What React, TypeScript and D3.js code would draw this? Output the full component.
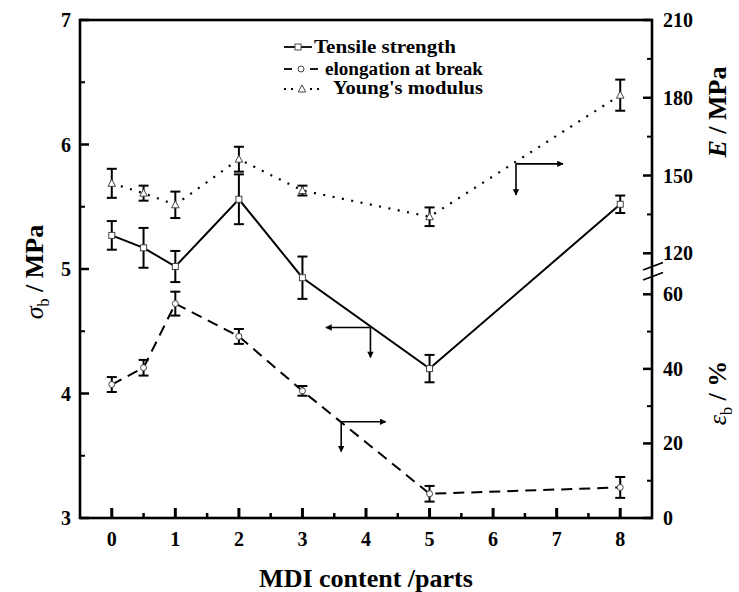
import React from 'react';
import * as d3 from 'd3';

const mdi = [0, 0.5, 1, 2, 3, 5, 8];
const tensile = [5.27, 5.17, 5.02, 5.56, 4.93, 4.2, 5.52];
const tensileErr = [0.115, 0.16, 0.125, 0.2, 0.17, 0.11, 0.07];
const elong = [35.8, 40.3, 57.5, 48.7, 34.1, 6.5, 8.2];
const elongErr = [2, 2.1, 3.2, 2, 1.3, 2.1, 2.8];
const modulus = [147, 143.2, 138.7, 156.3, 144.2, 134.1, 181];
const modulusErr = [5.6, 2.9, 5.1, 4.8, 1.9, 3.6, 6];

const xTicks = [0, 1, 2, 3, 4, 5, 6, 7, 8];
const xMinor = [0.5, 1.5, 2.5, 3.5, 4.5, 5.5, 6.5, 7.5];
const leftTicks = [3, 4, 5, 6, 7];
const leftMinor = [3.5, 4.5, 5.5, 6.5];
const eTicks = [120, 150, 180, 210];
const eMinor = [135, 165, 195];
const epsTicks = [0, 20, 40, 60];
const epsMinor = [10, 30, 50];

const legendLabels = ['Tensile strength', 'elongation at break', "Young's modulus"];

const FONT = "'Liberation Serif', 'Times New Roman', serif";

export default function App() {
  const x = d3.scaleLinear().domain([-0.5, 8.5]).range([80, 652]);
  const yL = d3.scaleLinear().domain([3, 7]).range([518, 20]);
  const yE = d3.scaleLinear().domain([120, 210]).range([253.3, 20]);
  const yEps = d3.scaleLinear().domain([0, 60]).range([518, 294.3]);

  const line = d3.line<[number, number]>();
  const tPts = mdi.map((d, i) => [x(d), yL(tensile[i])] as [number, number]);
  const ePts = mdi.map((d, i) => [x(d), yEps(elong[i])] as [number, number]);
  const mPts = mdi.map((d, i) => [x(d), yE(modulus[i])] as [number, number]);

  const errBar = (cx: number, y1: number, y2: number, key: string) => (
    <g key={key} stroke="#000" strokeWidth={2}>
      <line x1={cx} x2={cx} y1={y1} y2={y2} />
      <line x1={cx - 5} x2={cx + 5} y1={y1} y2={y1} />
      <line x1={cx - 5} x2={cx + 5} y1={y2} y2={y2} />
    </g>
  );

  const square = (cx: number, cy: number, key: string) => (
    <rect key={key} x={cx - 3} y={cy - 3} width={6} height={6} fill="#fff" stroke="#444" strokeWidth={1} />
  );
  const circle = (cx: number, cy: number, key: string) => (
    <circle key={key} cx={cx} cy={cy} r={3} fill="#fff" stroke="#444" strokeWidth={1} />
  );
  const tri = (cx: number, cy: number, key: string) => (
    <path key={key} d={`M${cx},${cy - 4}L${cx + 3.8},${cy + 3}L${cx - 3.8},${cy + 3}Z`} fill="#fff" stroke="#444" strokeWidth={1} />
  );

  const arrow = (cx: number, cy: number, hx: number, vy: number, key: string) => (
    <g key={key} stroke="#000" strokeWidth={1.6} fill="none">
      <line x1={cx} y1={cy} x2={hx} y2={cy} markerEnd="url(#ah)" />
      <line x1={cx} y1={cy} x2={cx} y2={vy} markerEnd="url(#ah)" />
    </g>
  );

  const bx0 = 80, bx1 = 652, by0 = 20, by1 = 518;

  return (
    <svg width={739} height={592} style={{ position: 'absolute', left: 0, top: 0, background: '#fff' }} fontFamily={FONT}>
      <defs>
        <marker id="ah" viewBox="0 0 10 10" refX={9} refY={5} markerWidth={5} markerHeight={4} orient="auto" markerUnits="strokeWidth">
          <path d="M0,0L10,5L0,10Z" fill="#000" />
        </marker>
      </defs>
      <rect x={0} y={0} width={739} height={592} fill="#fff" />

      {/* series lines */}
      <path d={line(mPts) || ''} fill="none" stroke="#000" strokeWidth={2.2} strokeDasharray="2 7.5" />
      <path d={line(tPts) || ''} fill="none" stroke="#000" strokeWidth={2} />
      <path d={line(ePts) || ''} fill="none" stroke="#000" strokeWidth={2} strokeDasharray="11 7" />

      {/* error bars */}
      {mdi.map((d, i) => errBar(x(d), yE(modulus[i] + modulusErr[i]), yE(modulus[i] - modulusErr[i]), 'me' + i))}
      {mdi.map((d, i) => errBar(x(d), yL(tensile[i] + tensileErr[i]), yL(tensile[i] - tensileErr[i]), 'te' + i))}
      {mdi.map((d, i) => errBar(x(d), yEps(elong[i] + elongErr[i]), yEps(elong[i] - elongErr[i]), 'ee' + i))}

      {/* markers */}
      {mPts.map((p, i) => tri(p[0], p[1], 'mt' + i))}
      {tPts.map((p, i) => square(p[0], p[1], 'ts' + i))}
      {ePts.map((p, i) => circle(p[0], p[1], 'ec' + i))}

      {/* arrows */}
      {arrow(x(4.07), yL(4.53), x(3.37), yL(4.29), 'a1')}
      {arrow(x(3.61), yEps(25.8), x(4.31), yEps(17.8), 'a2')}
      {arrow(x(6.36), yE(154.5), x(7.1), yE(142.5), 'a3')}

      {/* frame */}
      <rect x={bx0} y={by0} width={bx1 - bx0} height={by1 - by0} fill="none" stroke="#000" strokeWidth={2.6} />

      {/* x ticks */}
      {xTicks.map((t) => (
        <g key={'xt' + t}>
          <line x1={x(t)} x2={x(t)} y1={by1} y2={by1 - 10} stroke="#000" strokeWidth={3} />
          <text x={x(t)} y={546} textAnchor="middle" fontSize={20} fontWeight="bold">{t}</text>
        </g>
      ))}
      {xMinor.map((t) => (
        <line key={'xm' + t} x1={x(t)} x2={x(t)} y1={by1} y2={by1 - 5} stroke="#000" strokeWidth={2.5} />
      ))}

      {/* left ticks */}
      {leftTicks.map((t) => (
        <g key={'lt' + t}>
          <line x1={bx0} x2={bx0 + 9} y1={yL(t)} y2={yL(t)} stroke="#000" strokeWidth={2.5} />
          <text x={71} y={yL(t) + 7} textAnchor="end" fontSize={20} fontWeight="bold">{t}</text>
        </g>
      ))}
      {leftMinor.map((t) => (
        <line key={'lm' + t} x1={bx0} x2={bx0 + 5} y1={yL(t)} y2={yL(t)} stroke="#000" strokeWidth={2} />
      ))}

      {/* right ticks: E */}
      {eTicks.map((t) => (
        <g key={'et' + t}>
          <line x1={bx1} x2={bx1 - 9} y1={yE(t)} y2={yE(t)} stroke="#000" strokeWidth={2.5} />
          <text x={663} y={yE(t) + 7} textAnchor="start" fontSize={20} fontWeight="bold">{t}</text>
        </g>
      ))}
      {eMinor.map((t) => (
        <line key={'em' + t} x1={bx1} x2={bx1 - 5} y1={yE(t)} y2={yE(t)} stroke="#000" strokeWidth={2} />
      ))}
      {/* right ticks: eps */}
      {epsTicks.map((t) => (
        <g key={'pt' + t}>
          <line x1={bx1} x2={bx1 - 9} y1={yEps(t)} y2={yEps(t)} stroke="#000" strokeWidth={2.5} />
          <text x={663} y={yEps(t) + 7} textAnchor="start" fontSize={20} fontWeight="bold">{t}</text>
        </g>
      ))}
      {epsMinor.map((t) => (
        <line key={'pm' + t} x1={bx1} x2={bx1 - 5} y1={yEps(t)} y2={yEps(t)} stroke="#000" strokeWidth={2} />
      ))}

      {/* axis break */}
      <g stroke="#000" strokeWidth={1.8}>
        <line x1={643} y1={270} x2={663} y2={262.5} />
        <line x1={643} y1={280} x2={663} y2={272.5} />
      </g>

      {/* axis titles */}
      <text x={366} y={587} textAnchor="middle" fontSize={26} fontWeight="bold">MDI content /parts</text>
      <text transform="translate(43,272) rotate(-90)" textAnchor="middle" fontSize={26} fontWeight="bold">
        <tspan fontStyle="italic" fontWeight="normal">σ</tspan>
        <tspan fontSize={16} dy={6} fontWeight="normal">b</tspan>
        <tspan dy={-6}> / MPa</tspan>
      </text>
      <text transform="translate(726,112) rotate(-90)" textAnchor="middle" fontSize={26} fontWeight="bold">
        <tspan fontStyle="italic">E</tspan>
        <tspan> / MPa</tspan>
      </text>
      <text transform="translate(726,393) rotate(-90)" textAnchor="middle" fontSize={26} fontWeight="bold">
        <tspan fontStyle="italic" fontWeight="normal">ε</tspan>
        <tspan fontSize={16} dy={6} fontWeight="normal">b</tspan>
        <tspan dy={-6}> / %</tspan>
      </text>

      {/* legend */}
      <g>
        <line x1={284} x2={312} y1={47} y2={47} stroke="#000" strokeWidth={1.8} />
        {square(298, 47, 'lg1')}
        <text x={314} y={53} fontSize={18} fontWeight="bold" textLength={142} lengthAdjust="spacingAndGlyphs">{legendLabels[0]}</text>

        <line x1={284} x2={292} y1={69} y2={69} stroke="#000" strokeWidth={1.8} />
        <line x1={310} x2={318} y1={69} y2={69} stroke="#000" strokeWidth={1.8} />
        {circle(301, 69, 'lg2')}
        <text x={325} y={75} fontSize={18} fontWeight="bold" textLength={158} lengthAdjust="spacingAndGlyphs">{legendLabels[1]}</text>

        <line x1={284} x2={296} y1={89} y2={89} stroke="#000" strokeWidth={2} strokeDasharray="2 5" />
        <line x1={310} x2={322} y1={89} y2={89} stroke="#000" strokeWidth={2} strokeDasharray="2 5" />
        {tri(302, 89, 'lg3')}
        <text x={333} y={94} fontSize={18} fontWeight="bold" textLength={150} lengthAdjust="spacingAndGlyphs">{legendLabels[2]}</text>
      </g>
    </svg>
  );
}
